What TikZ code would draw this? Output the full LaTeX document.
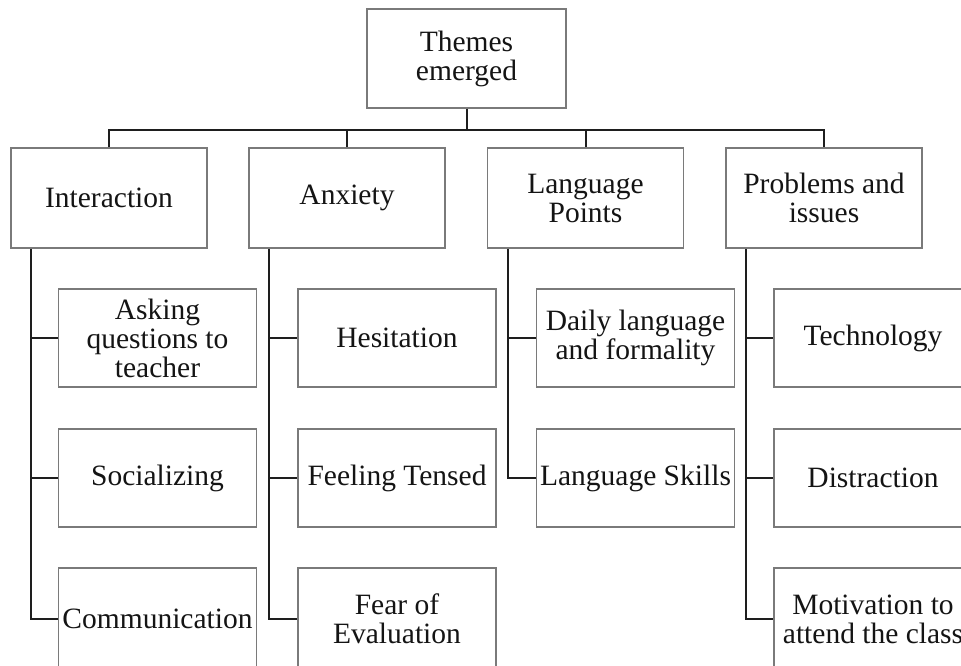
\documentclass[tikz,border=0pt]{standalone}
\usepackage{fontspec}
\setmainfont{Liberation Serif}
\definecolor{boxgray}{HTML}{7A7A7A}
\definecolor{linedark}{HTML}{1E1E1E}
\definecolor{textdark}{HTML}{141414}
\begin{document}
\begin{tikzpicture}[x=1pt,y=-1pt,
  box/.style={draw=boxgray,line width=1.5pt,fill=white,align=center,inner sep=0pt,
    text=textdark,font=\fontsize{29.5}{29}\selectfont,anchor=center},
  mainbox/.style={box,minimum width=199pt,minimum height=99pt},
  themebox/.style={box,minimum width=196pt,minimum height=100pt},
  subbox/.style={box,minimum width=198pt,minimum height=98pt},
  lastbox/.style={box,minimum width=198pt,minimum height=102pt},
  conn/.style={draw=linedark,line width=2pt}]
\path[use as bounding box,clip] (0,0) rectangle (961,666);
\fill[white] (0,0) rectangle (961,666);
\coordinate (bus) at (466.5,130);
\node[mainbox] (top) at (466.5,58.5) {Themes\\emerged};
\node[themebox] (int) at (109,198) {Interaction};
\node[themebox] (anx) at (347,198) {Anxiety};
\node[themebox] (lang) at (585.5,198) {Language\\Points};
\node[themebox] (prob) at (824,198) {Problems and\\issues};
% children
\node[subbox] (i1) at (157.5,338) {Asking\\questions to\\teacher};
\node[subbox] (i2) at (157.5,478) {Socializing};
\node[lastbox] (i3) at (157.5,619) {Communication};
\node[subbox] (a1) at (397,338) {Hesitation};
\node[subbox] (a2) at (397,478) {Feeling Tensed};
\node[lastbox] (a3) at (397,619) {Fear of\\Evaluation};
\node[subbox] (l1) at (635.5,338) {Daily language\\and formality};
\node[subbox] (l2) at (635.5,478) {Language Skills};
\node[subbox] (p1) at (873,338) {Technology};
\node[subbox] (p2) at (873,478) {Distraction};
\node[lastbox] (p3) at (873,619) {Motivation to\\attend the class};
% bus
\draw[conn] (top.south) -- (top.south |- bus);
\draw[conn] (int.north) |- (bus) -| (prob.north);
\draw[conn] (anx.north) -- (anx.north |- bus);
\draw[conn] (lang.north) -- (lang.north |- bus);
% trunks
\draw[conn] ([xshift=21pt]int.south west) |- (i3.west);
\draw[conn] ([xshift=21pt]int.south west |- i1.west) -- (i1.west);
\draw[conn] ([xshift=21pt]int.south west |- i2.west) -- (i2.west);
\draw[conn] ([xshift=21pt]anx.south west) |- (a3.west);
\draw[conn] ([xshift=21pt]anx.south west |- a1.west) -- (a1.west);
\draw[conn] ([xshift=21pt]anx.south west |- a2.west) -- (a2.west);
\draw[conn] ([xshift=21pt]lang.south west) |- (l2.west);
\draw[conn] ([xshift=21pt]lang.south west |- l1.west) -- (l1.west);
\draw[conn] ([xshift=21pt]prob.south west) |- (p3.west);
\draw[conn] ([xshift=21pt]prob.south west |- p1.west) -- (p1.west);
\draw[conn] ([xshift=21pt]prob.south west |- p2.west) -- (p2.west);
\end{tikzpicture}
\end{document}
